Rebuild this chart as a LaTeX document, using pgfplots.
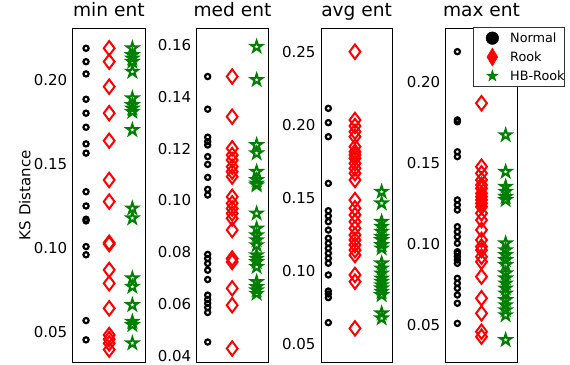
\documentclass[border=0pt]{standalone}
\usepackage{pgfplots}
\pgfplotsset{compat=1.18}
\usepackage{fontspec}
\setmainfont{DejaVu Sans}
\definecolor{mplgreen}{rgb}{0,0.5,0}
\pgfdeclareplotmark{ostar}{%
  \pgfpathmoveto{\pgfpointpolar{90}{\pgfplotmarksize}}%
  \pgfpathlineto{\pgfpointpolar{126}{0.382\pgfplotmarksize}}%
  \pgfpathlineto{\pgfpointpolar{162}{\pgfplotmarksize}}%
  \pgfpathlineto{\pgfpointpolar{198}{0.382\pgfplotmarksize}}%
  \pgfpathlineto{\pgfpointpolar{234}{\pgfplotmarksize}}%
  \pgfpathlineto{\pgfpointpolar{270}{0.382\pgfplotmarksize}}%
  \pgfpathlineto{\pgfpointpolar{306}{\pgfplotmarksize}}%
  \pgfpathlineto{\pgfpointpolar{342}{0.382\pgfplotmarksize}}%
  \pgfpathlineto{\pgfpointpolar{18}{\pgfplotmarksize}}%
  \pgfpathlineto{\pgfpointpolar{54}{0.382\pgfplotmarksize}}%
  \pgfpathclose
  \pgfusepathqstroke
}
\pgfdeclareplotmark{fstar}{%
  \pgfpathmoveto{\pgfpointpolar{90}{\pgfplotmarksize}}%
  \pgfpathlineto{\pgfpointpolar{126}{0.382\pgfplotmarksize}}%
  \pgfpathlineto{\pgfpointpolar{162}{\pgfplotmarksize}}%
  \pgfpathlineto{\pgfpointpolar{198}{0.382\pgfplotmarksize}}%
  \pgfpathlineto{\pgfpointpolar{234}{\pgfplotmarksize}}%
  \pgfpathlineto{\pgfpointpolar{270}{0.382\pgfplotmarksize}}%
  \pgfpathlineto{\pgfpointpolar{306}{\pgfplotmarksize}}%
  \pgfpathlineto{\pgfpointpolar{342}{0.382\pgfplotmarksize}}%
  \pgfpathlineto{\pgfpointpolar{18}{\pgfplotmarksize}}%
  \pgfpathlineto{\pgfpointpolar{54}{0.382\pgfplotmarksize}}%
  \pgfpathclose
  \pgfusepathqfillstroke
}
\pgfplotsset{
  ksbase/.style={
    scale only axis,
    height=333.7pt,
    anchor=south west,
    xtick=\empty,
    major tick length=0pt,
    axis line style={line width=0.9pt, black},
    tick label style={font=\fontsize{15}{18}\selectfont},
    yticklabel style={xshift=-2pt, /pgf/number format/.cd, fixed, fixed zerofill, precision=2, assume math mode=true},
    title style={font=\fontsize{18.6}{22}\selectfont, at={(0.5,1)}, anchor=base, yshift=5.6pt},
  },
  nrm/.style={only marks, mark=o, mark size=2.6pt, line width=2.2pt, black, forget plot},
  rk/.style={only marks, mark=diamond, mark size=7.2pt, line width=2pt, red, forget plot},
  hb/.style={only marks, mark=ostar, mark size=5.8pt, line width=2pt, mplgreen, forget plot},
}
\begin{document}
\begin{tikzpicture}
% ---------------- min ent
\begin{axis}[ksbase, at={(72.7pt,2pt)}, width=72.3pt,
  xmin=0.424, xmax=3.547, ymin=0.0319, ymax=0.2308,
  ytick={0.05,0.10,0.15,0.20},
  title={min ent},
  ylabel={KS Distance},
  ylabel style={font=\fontsize{15}{18}\selectfont, at={(axis description cs:-0.585,0.5)}, anchor=base},
]
\addplot[nrm] coordinates {(1,0.2189)(1,0.2109)(1,0.2036)(1,0.1885)(1,0.1802)(1,0.1718)(1,0.1619)(1,0.1564)(1,0.1334)(1,0.1249)(1,0.1170)(1,0.1160)(1,0.1007)(1,0.0958)(1,0.0566)(1,0.0451)};
\addplot[rk] coordinates {(2,0.2189)(2,0.2109)(2,0.1960)(2,0.1802)(2,0.1638)(2,0.1404)(2,0.1275)(2,0.1030)(2,0.1022)(2,0.0868)(2,0.0788)(2,0.0639)(2,0.0480)(2,0.0455)(2,0.0430)(2,0.0393)};
\addplot[hb] coordinates {(3,0.2189)(3,0.2149)(3,0.2129)(3,0.2109)(3,0.2050)(3,0.1891)(3,0.1851)(3,0.1831)(3,0.1811)(3,0.1702)(3,0.1235)(3,0.1176)(3,0.0818)(3,0.0768)(3,0.0659)(3,0.0560)(3,0.0540)(3,0.0431)};
\end{axis}
% ---------------- med ent
\begin{axis}[ksbase, at={(196.7pt,2pt)}, width=71.6pt,
  xmin=0.551, xmax=3.476, ymin=0.0377, ymax=0.1664,
  ytick={0.04,0.06,0.08,0.10,0.12,0.14,0.16},
  title={med ent},
]
\addplot[nrm] coordinates {(1,0.1478)(1,0.1352)(1,0.1244)(1,0.1227)(1,0.1214)(1,0.1169)(1,0.1139)(1,0.1089)(1,0.1043)(1,0.1021)(1,0.0792)(1,0.0776)(1,0.0757)(1,0.0731)(1,0.0695)(1,0.0635)(1,0.0618)(1,0.0603)(1,0.0587)(1,0.0568)(1,0.0454)};
\addplot[rk] coordinates {(2,0.1478)(2,0.1323)(2,0.1201)(2,0.1175)(2,0.1156)(2,0.1130)(2,0.1111)(2,0.1092)(2,0.1014)(2,0.0989)(2,0.0969)(2,0.0950)(2,0.0931)(2,0.0886)(2,0.0776)(2,0.0763)(2,0.0661)(2,0.0596)(2,0.0429)};
\addplot[hb] coordinates {(3,0.1593)(3,0.1465)(3,0.1214)(3,0.1182)(3,0.1111)(3,0.1079)(3,0.1066)(3,0.1059)(3,0.0950)(3,0.0892)(3,0.0866)(3,0.0847)(3,0.0828)(3,0.0789)(3,0.0776)(3,0.0763)(3,0.0744)(3,0.0686)(3,0.0667)(3,0.0654)(3,0.0641)};
\end{axis}
% ---------------- avg ent
\begin{axis}[ksbase, at={(321pt,2pt)}, width=71.3pt,
  xmin=0.725, xmax=3.4, ymin=0.0379, ymax=0.2660,
  ytick={0.05,0.10,0.15,0.20,0.25},
  title={avg ent},
]
\addplot[nrm] coordinates {(1,0.2113)(1,0.2015)(1,0.1919)(1,0.1600)(1,0.1413)(1,0.1377)(1,0.1338)(1,0.1281)(1,0.1225)(1,0.1190)(1,0.1156)(1,0.1122)(1,0.1088)(1,0.1054)(1,0.0974)(1,0.0864)(1,0.0844)(1,0.0819)(1,0.0648)};
\addplot[rk] coordinates {(2,0.2500)(2,0.2033)(2,0.1992)(2,0.1953)(2,0.1919)(2,0.1851)(2,0.1816)(2,0.1794)(2,0.1771)(2,0.1737)(2,0.1703)(2,0.1669)(2,0.1623)(2,0.1486)(2,0.1430)(2,0.1384)(2,0.1338)(2,0.1293)(2,0.1247)(2,0.1213)(2,0.1179)(2,0.1144)(2,0.1110)(2,0.0974)(2,0.0928)(2,0.0609)};
\addplot[hb] coordinates {(3,0.1543)(3,0.1464)(3,0.1338)(3,0.1304)(3,0.1270)(3,0.1235)(3,0.1213)(3,0.1179)(3,0.1156)(3,0.1054)(3,0.1019)(3,0.0985)(3,0.0951)(3,0.0928)(3,0.0905)(3,0.0883)(3,0.0860)(3,0.0837)(3,0.0712)(3,0.0678)};
\end{axis}
% ---------------- max ent
\begin{axis}[ksbase, at={(445.7pt,2pt)}, width=71.6pt,
  xmin=0.517, xmax=3.483, ymin=0.0272, ymax=0.2329,
  ytick={0.05,0.10,0.15,0.20},
  title={max ent},
  legend style={at={(axis description cs:0.3855,1.003)}, anchor=north west,
    draw=black!80, line width=0.8pt, fill=white, inner xsep=0pt, inner ysep=1pt,
    font=\fontsize{12.8}{15}\selectfont, row sep=0pt,
    nodes={inner sep=0pt, font=\fontsize{12.8}{15}\selectfont},
    /tikz/every even column/.append style={column sep=4pt}},
  legend cell align=left,
  legend image code/.code={\path (0pt,-9.2pt) (36pt,9.2pt); \draw[#1] plot coordinates {(18.4pt,0pt)};},
]
\addplot[nrm] coordinates {(1,0.2185)(1,0.1764)(1,0.1753)(1,0.1568)(1,0.1538)(1,0.1271)(1,0.1240)(1,0.1209)(1,0.1106)(1,0.1075)(1,0.1044)(1,0.1004)(1,0.0952)(1,0.0942)(1,0.0921)(1,0.0901)(1,0.0880)(1,0.0788)(1,0.0757)(1,0.0726)(1,0.0685)(1,0.0634)(1,0.0510)};
\addplot[rk] coordinates {(2,0.1867)(2,0.1476)(2,0.1435)(2,0.1394)(2,0.1363)(2,0.1342)(2,0.1311)(2,0.1291)(2,0.1271)(2,0.1250)(2,0.1229)(2,0.1189)(2,0.1147)(2,0.1086)(2,0.1024)(2,0.0983)(2,0.0962)(2,0.0921)(2,0.0890)(2,0.0798)(2,0.0665)(2,0.0572)(2,0.0459)(2,0.0428)};
\addplot[hb] coordinates {(3,0.1671)(3,0.1445)(3,0.1353)(3,0.1322)(3,0.1291)(3,0.1271)(3,0.1004)(3,0.0962)(3,0.0932)(3,0.0901)(3,0.0870)(3,0.0819)(3,0.0788)(3,0.0757)(3,0.0726)(3,0.0695)(3,0.0654)(3,0.0623)(3,0.0592)(3,0.0561)(3,0.0408)};
\addlegendimage{only marks, mark=*, mark size=6.3pt, black, line width=0.5pt}
\addlegendentry{Normal}
\addlegendimage{only marks, mark=diamond*, mark size=9pt, mark options={xscale=0.8}, red, line width=0.5pt}
\addlegendentry{Rook}
\addlegendimage{only marks, mark=fstar, mark size=6pt, mplgreen, line width=0.5pt}
\addlegendentry{HB-Rook}
\end{axis}
\pgfresetboundingbox
\useasboundingbox (0,0) rectangle (570pt,364pt);
\end{tikzpicture}
\end{document}
